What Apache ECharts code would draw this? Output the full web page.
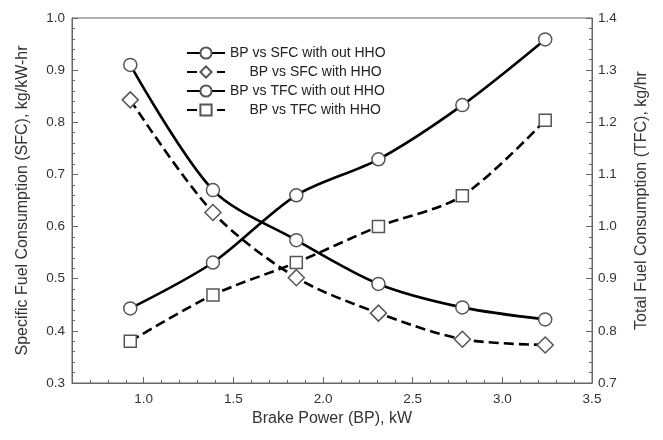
<!DOCTYPE html>
<html><head><meta charset="utf-8">
<script src="https://cdn.jsdelivr.net/npm/echarts@6/dist/echarts.min.js"></script>
<style>html,body{margin:0;padding:0;background:#fff}#c{width:663px;height:440px}</style>
</head><body><div id="c"></div>
<script>
const bp = [0.925, 1.386, 1.851, 2.309, 2.777, 3.239];
const sfcWithout = [0.910, 0.670, 0.574, 0.490, 0.445, 0.422];
const sfcWith = [0.843, 0.627, 0.502, 0.434, 0.384, 0.373];
const tfcWithout = [0.843, 0.931, 1.060, 1.129, 1.233, 1.359];
const tfcWith = [0.780, 0.869, 0.931, 1.000, 1.059, 1.204];
const xMajorTicks = [1.0, 1.5, 2.0, 2.5, 3.0, 3.5];
const names = ['BP vs SFC with out HHO', '     BP vs SFC with HHO', 'BP vs TFC with out HHO', '     BP vs TFC with HHO'];

const pair = (xs, ys) => xs.map((x, i) => [x, ys[i]]);
const font = 'Liberation Sans, Arial, sans-serif';
const axisColor = '#666';
const textColor = '#333';

function mkSeries(name, data, yIdx, symbol, dashed) {
  const size = symbol === 'circle' ? 13 : (symbol === 'diamond' ? 16 : 12);
  return {
    name, type: 'line', data, yAxisIndex: yIdx, xAxisIndex: 0,
    smooth: 0.3, symbol, symbolSize: size,
    lineStyle: { color: '#000', width: 2.6, type: dashed ? [10, 5] : 'solid' },
    itemStyle: { color: '#fff', borderColor: '#555', borderWidth: 1.5 },
    z: symbol === 'circle' ? 3 : 2
  };
}

const chart = echarts.init(document.getElementById('c'), null, { renderer: 'canvas' });
chart.setOption({
  animation: false,
  backgroundColor: '#fff',
  textStyle: { fontFamily: font },
  grid: { left: 72, right: 71, top: 18, bottom: 57, show: true, borderColor: axisColor, borderWidth: 1, backgroundColor: 'transparent' },
  legend: {
    orient: 'vertical', left: 181, top: 41, itemWidth: 38, itemHeight: 14, itemGap: 5,
    textStyle: { fontSize: 14, color: '#222', fontFamily: font },
    data: names
  },
  xAxis: [{
    type: 'value', min: 0.6, max: 3.5, interval: 0.1,
    name: 'Brake Power (BP), kW', nameLocation: 'middle', nameGap: 27,
    nameTextStyle: { fontSize: 16, color: textColor },
    axisLine: { show: true, lineStyle: { color: axisColor } },
    axisTick: { show: true, inside: true, length: 3, lineStyle: { color: axisColor } },
    axisLabel: { customValues: xMajorTicks, formatter: v => v.toFixed(1), fontSize: 13.5, color: textColor, margin: 9 },
    splitLine: { show: false }
  }, {
    type: 'value', min: 0.6, max: 3.5, position: 'bottom', offset: 0,
    axisLine: { show: false },
    axisTick: { show: true, inside: true, length: 6, customValues: xMajorTicks, lineStyle: { color: axisColor } },
    axisLabel: { show: false },
    splitLine: { show: false }
  }],
  yAxis: [{
    type: 'value', min: 0.3, max: 1.0, interval: 0.1, position: 'left',
    name: 'Specific Fuel Consumption (SFC), kg/kW-hr', nameLocation: 'middle', nameGap: 41,
    nameTextStyle: { fontSize: 16, color: textColor },
    axisLine: { show: true, lineStyle: { color: axisColor } },
    axisTick: { show: true, inside: true, length: 6, lineStyle: { color: axisColor } },
    minorTick: { show: true, splitNumber: 5, length: 3, lineStyle: { color: axisColor } },
    axisLabel: { formatter: v => v.toFixed(1), fontSize: 13.5, color: textColor, margin: 7 },
    splitLine: { show: false }
  }, {
    type: 'value', min: 0.7, max: 1.4, interval: 0.1, position: 'right',
    name: 'Total Fuel Consumption (TFC), kg/hr', nameLocation: 'middle', nameGap: 42,
    nameTextStyle: { fontSize: 16, color: textColor },
    axisLine: { show: true, lineStyle: { color: axisColor } },
    axisTick: { show: true, inside: true, length: 6, lineStyle: { color: axisColor } },
    minorTick: { show: true, splitNumber: 5, length: 3, lineStyle: { color: axisColor } },
    axisLabel: { formatter: v => v.toFixed(1), fontSize: 13.5, color: textColor, margin: 6 },
    splitLine: { show: false }
  }],
  series: [
    mkSeries(names[0], pair(bp, sfcWithout), 0, 'circle', false),
    mkSeries(names[1], pair(bp, sfcWith), 0, 'diamond', true),
    mkSeries(names[2], pair(bp, tfcWithout), 1, 'circle', false),
    mkSeries(names[3], pair(bp, tfcWith), 1, 'rect', true)
  ]
});
</script></body></html>
